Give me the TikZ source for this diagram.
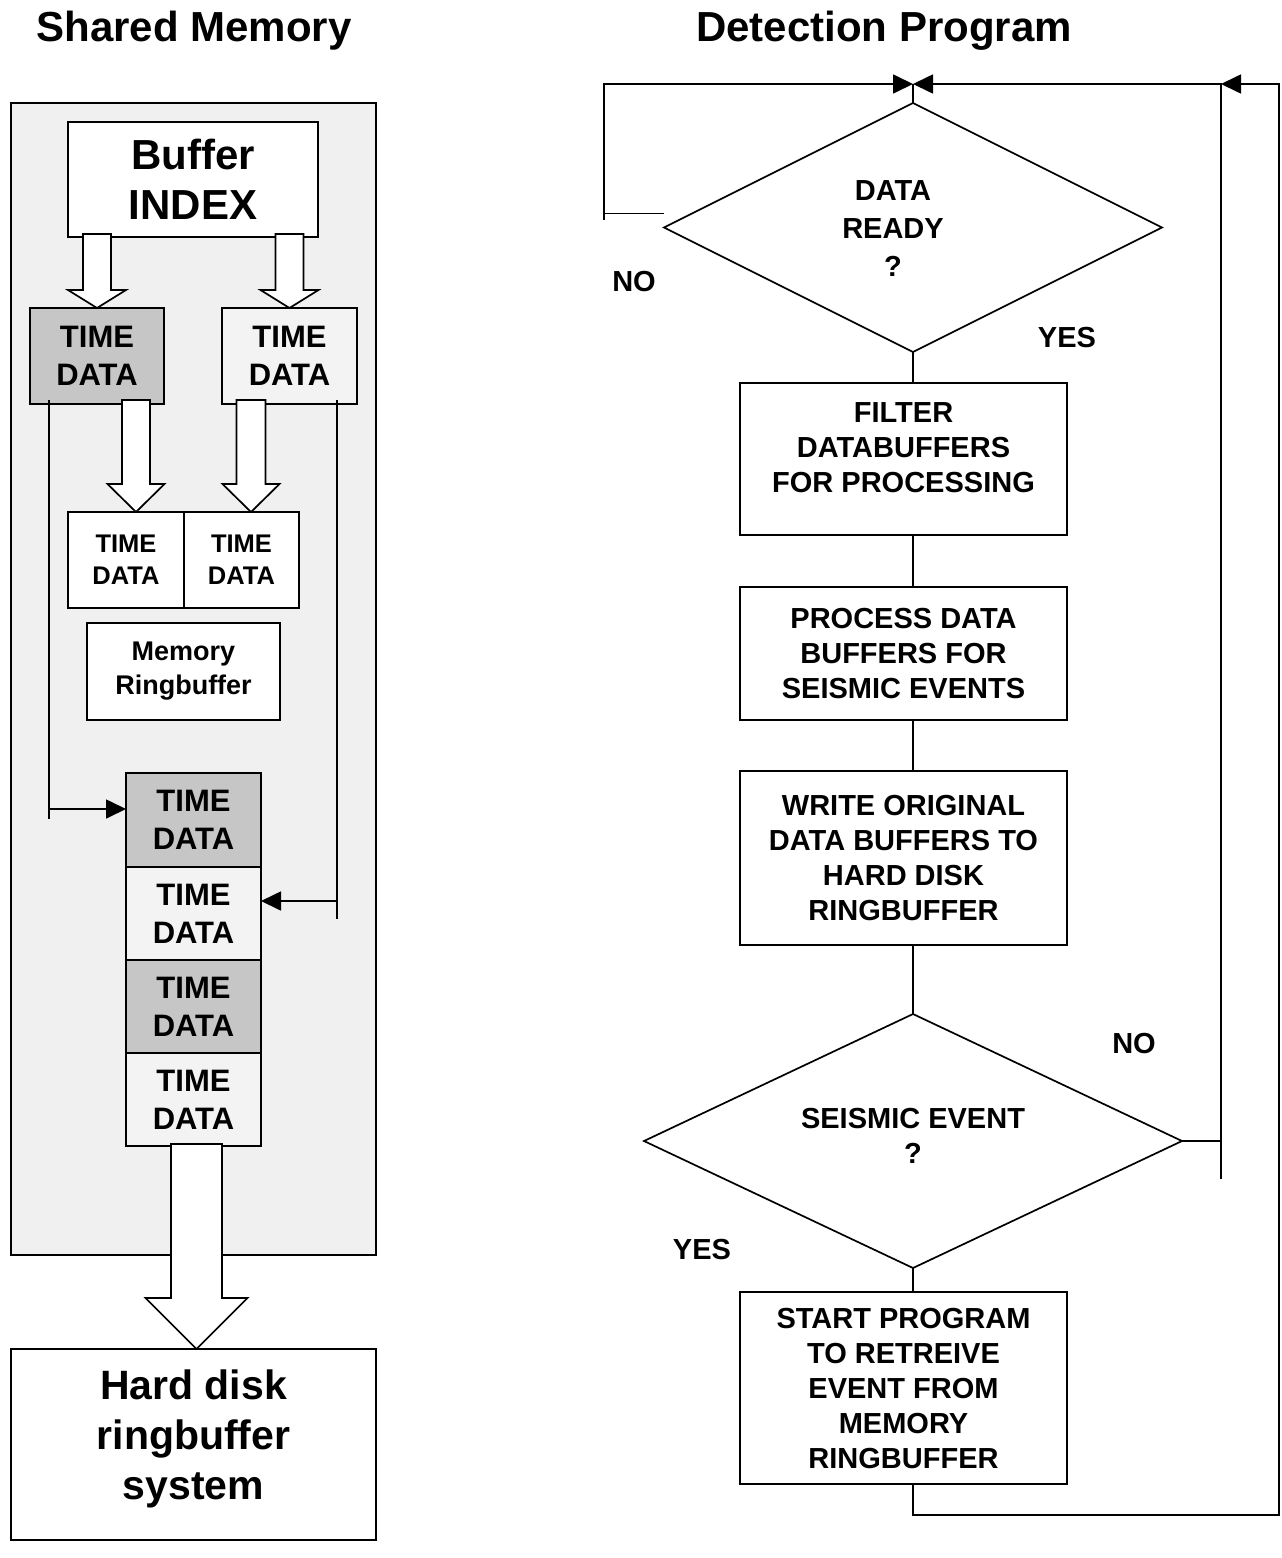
\documentclass[tikz,border=0pt]{standalone}
\usepackage{fontspec}
\setmainfont{Liberation Sans}
\usetikzlibrary{arrows.meta, positioning, calc, shapes.geometric}
\definecolor{panelgray}{HTML}{F0F0F0}
\definecolor{cellgray}{HTML}{C6C6C6}
\definecolor{celllight}{HTML}{F3F3F3}
\tikzset{
  connect/.style={line width=1.7pt, black},
  arrowed/.style={connect, -{Triangle[length=20pt,width=19pt]}},
  fat arrow/.style={line width=1.7pt, draw=black, fill=white, line join=miter},
  panel/.style={draw, line width=1.7pt, fill=panelgray, outer sep=0},
  cell/.style={draw, line width=1.7pt, outer sep=0, inner sep=0, align=center,
    font=\fontsize{31}{38}\selectfont\bfseries},
  cell dark/.style={cell, fill=cellgray},
  cell light/.style={cell, fill=celllight},
  cell white/.style={cell, fill=white},
  proc/.style={cell white, minimum width=327, font=\fontsize{29}{35}\selectfont\bfseries},
  decision/.style={draw, diamond, line width=1.7pt, fill=white, inner sep=0, outer sep=0},
  heading/.style={font=\fontsize{42}{50}\selectfont\bfseries},
  answer/.style={font=\fontsize{29}{35}\selectfont\bfseries, align=center}
}
% hollow block arrow: top of shaft, tip, half shaft, half head, head length
\newcommand{\fatarrow}[5]{%
  \draw[fat arrow] let \p1=(#1), \p2=(#2) in
    (\x2-#3pt,\y1) -- (\x2-#3pt,\y2+#5pt) -- (\x2-#4pt,\y2+#5pt) -- (\x2,\y2)
    -- (\x2+#4pt,\y2+#5pt) -- (\x2+#3pt,\y2+#5pt) -- (\x2+#3pt,\y1) -- cycle;}

\begin{document}
\begin{tikzpicture}[x=1pt,y=-1pt]
  \useasboundingbox (0,0) rectangle (1282,1558);

  % --- LEFT: SHARED MEMORY ---
  \node[heading] (t-shm) at (194,31) {Shared Memory};
  \node[panel, minimum width=365, minimum height=1152] (shm) at (193.5,679) {};

  \node[cell white, minimum width=250, minimum height=115, text depth=-10pt,
        font=\fontsize{42}{50}\selectfont\bfseries] (idx) at (193,179.5) {Buffer\\INDEX};

  % upper buffers
  \node[cell dark, minimum width=134, minimum height=96] (tl) at (97,356) {TIME\\DATA};
  \node[cell light, minimum width=135, minimum height=96] (tr) at (289.5,356) {TIME\\DATA};

  % middle buffers
  \node[cell white, minimum width=116, minimum height=96,
        font=\fontsize{25.5}{32}\selectfont\bfseries] (m1) at (126,560) {TIME\\DATA};
  \node[cell white, minimum width=115, minimum height=96,
        font=\fontsize{25.5}{32}\selectfont\bfseries, right=0pt of m1] (m2) {TIME\\DATA};

  \node[cell white, minimum width=193, minimum height=97,
        font=\fontsize{27}{34}\selectfont\bfseries] (ring) at (183.5,671.5) {Memory\\Ringbuffer};

  % ringbuffer stack
  \node[cell dark, minimum width=135, minimum height=94] (s1) at (193.5,820) {TIME\\DATA};
  \node[cell light, minimum width=135, minimum height=93, below=0pt of s1] (s2) {TIME\\DATA};
  \node[cell dark, minimum width=135, minimum height=93, below=0pt of s2] (s3) {TIME\\DATA};
  \node[cell light, minimum width=135, minimum height=93, below=0pt of s3] (s4) {TIME\\DATA};

  \node[cell white, minimum width=365, minimum height=191, text depth=19pt,
        font=\fontsize{41}{50}\selectfont\bfseries] (hd) at (193.5,1444.5) {Hard disk\\ringbuffer\\system};

  % block arrows
  \fatarrow{[yshift=3pt]idx.south}{tl.north}{14}{29}{18}
  \fatarrow{[yshift=3pt]idx.south}{tr.north}{14}{29}{18}
  \fatarrow{[yshift=4pt]tl.south}{[xshift=10pt]m1.north}{14}{28.5}{28}
  \fatarrow{[yshift=4pt]tr.south}{[xshift=9.5pt]m2.north}{14.5}{28.5}{28}
  \fatarrow{[yshift=2pt]s4.south}{[xshift=3pt]hd.north}{25.5}{51}{51}

  % thin links into the stack
  \draw[connect] ([xshift=19pt,yshift=4pt]tl.south west) -- ++(0,419);
  \draw[arrowed] ([xshift=-77pt,yshift=11pt]s1.west) -- ([yshift=11pt]s1.west);
  \draw[connect] ([xshift=-20pt,yshift=4pt]tr.south east) -- ++(0,519);
  \draw[arrowed] ([xshift=76pt,yshift=12.5pt]s2.east) -- ([yshift=12.5pt]s2.east);

  % --- RIGHT: DETECTION PROGRAM ---
  \node[heading] (t-det) at (884,31) {Detection Program};

  \node[decision, minimum width=498, minimum height=249] (d1) at (913,227.5) {};
  \node[answer, font=\fontsize{29}{38}\selectfont\bfseries] (d1-text) at (893,229) {DATA\\READY\\?};

  \node[proc, minimum height=152, text depth=23pt] (filter) at (903.5,459) {FILTER\\DATABUFFERS\\FOR PROCESSING};
  \node[proc, minimum height=133] (process) at (903.5,653.5) {PROCESS DATA\\BUFFERS FOR\\SEISMIC EVENTS};
  \node[proc, minimum height=174] (write) at (903.5,858) {WRITE ORIGINAL\\DATA BUFFERS TO\\HARD DISK\\RINGBUFFER};

  \node[decision, minimum width=538, minimum height=254] (d2) at (913,1141) {};
  \node[answer] (d2-text) at (913,1136) {SEISMIC EVENT\\?};

  \node[proc, minimum height=192] (start) at (903.5,1388) {START PROGRAM\\TO RETREIVE\\EVENT FROM\\MEMORY\\RINGBUFFER};

  % answers
  \node[answer] (no1) at (634,282) {NO};
  \node[answer] (yes1) at (1067,338) {YES};
  \node[answer] (no2) at (1134,1044) {NO};
  \node[answer] (yes2) at (702,1249) {YES};

  % main flow
  \draw[connect] (d1.south) -- (d1.south |- filter.north);
  \foreach \a/\b in {filter/process, process/write}
    \draw[connect] (d1.south |- \a.south) -- (d1.south |- \b.north);
  \draw[connect] (d2.north |- write.south) -- (d2.north);
  \draw[connect] (d2.south) -- (d2.south |- start.north);

  % loops back to the top
  \coordinate[above=19pt of d1.north] (merge);
  \coordinate[right=39pt of d2.east] (nojoin);
  \draw[connect] (merge) -- (d1.north);
  \draw[arrowed] ([yshift=14pt]d1.west) -- ++(-60,0) |- (merge);
  \draw[connect] ([xshift=-60pt,yshift=14pt]d1.west) -- ++(0,6);
  \draw[connect] (d2.east) -- (nojoin);
  \draw[arrowed] ([yshift=-38pt]nojoin) -- (nojoin |- merge) -- (merge);
  \draw[arrowed] (d2.south |- start.south) -- ++(0,31) -| ([xshift=366pt]merge) -- (nojoin |- merge);

\end{tikzpicture}
\end{document}
